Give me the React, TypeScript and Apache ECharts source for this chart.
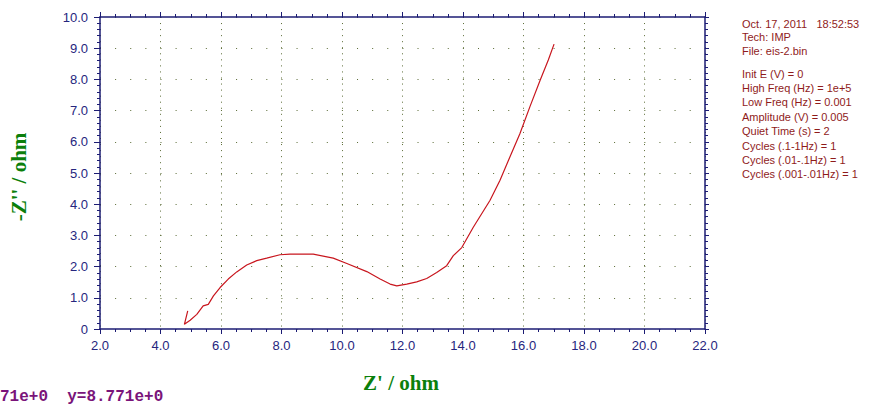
import React, { useEffect, useRef } from "react";
import * as echarts from "echarts";

const zReal = [4.90, 4.79, 4.98, 5.20, 5.41, 5.58, 5.75, 5.97, 6.24, 6.52, 6.85, 7.18, 7.51, 7.95, 8.28, 8.61, 9.05, 9.71, 10.16, 10.82, 11.26, 11.59, 11.81, 12.14, 12.47, 12.80, 13.13, 13.46, 13.68, 13.96, 14.34, 14.89, 15.22, 15.55, 15.88, 16.21, 16.55, 16.82, 17.01];
const zImag = [0.58, 0.15, 0.28, 0.47, 0.74, 0.79, 1.06, 1.33, 1.60, 1.83, 2.05, 2.19, 2.27, 2.38, 2.40, 2.40, 2.40, 2.27, 2.10, 1.84, 1.60, 1.44, 1.38, 1.44, 1.51, 1.62, 1.81, 2.03, 2.35, 2.61, 3.26, 4.12, 4.76, 5.51, 6.26, 7.12, 7.97, 8.62, 9.13];

const xRange = [2, 22];
const yRange = [0, 10];

const infoHeader = ["Oct. 17, 2011   18:52:53", "Tech: IMP", "File: eis-2.bin"];
const infoParams = [
  "Init E (V) = 0",
  "High Freq (Hz) = 1e+5",
  "Low Freq (Hz) = 0.001",
  "Amplitude (V) = 0.005",
  "Quiet Time (s) = 2",
  "Cycles (.1-1Hz) = 1",
  "Cycles (.01-.1Hz) = 1",
  "Cycles (.001-.01Hz) = 1",
];
const cursorText = "71e+0  y=8.771e+0";

const AXIS = "#1c1c74";
const LABEL = "#26267e";
const GRID = "#5a6b35";
const GREEN = "#0b7f0b";
const INFO = "#8f1b1b";

export default function App() {
  const ref = useRef<HTMLDivElement>(null);
  useEffect(() => {
    if (!ref.current) return;
    const chart = echarts.init(ref.current, null, { renderer: "svg" });
    const fmt = (v: number) => (v === 0 ? "0" : v.toFixed(1));
    const baseX = {
      type: "value" as const,
      min: xRange[0],
      max: xRange[1],
      interval: 2,
      axisLine: { show: true, onZero: false, lineStyle: { color: AXIS, width: 1.5 } },
      axisTick: { show: true, inside: false, length: 5, lineStyle: { color: AXIS } },
      minorTick: { show: true, splitNumber: 4, length: 3, lineStyle: { color: AXIS } },
    };
    const baseY = {
      type: "value" as const,
      min: yRange[0],
      max: yRange[1],
      interval: 1,
      axisLine: { show: true, onZero: false, lineStyle: { color: AXIS, width: 1.5 } },
      axisTick: { show: true, inside: false, length: 6, lineStyle: { color: AXIS } },
      minorTick: { show: true, splitNumber: 5, length: 3, lineStyle: { color: AXIS } },
    };
    const graphics: any[] = [];
    infoHeader.forEach((t, i) => {
      graphics.push({
        type: "text",
        left: 742,
        top: 18 + i * 13.5,
        style: { text: t, fill: INFO, font: "11px 'Liberation Sans', Arial, sans-serif" },
      });
    });
    infoParams.forEach((t, i) => {
      graphics.push({
        type: "text",
        left: 742,
        top: 68 + i * 14.4,
        style: { text: t, fill: INFO, font: "11px 'Liberation Sans', Arial, sans-serif" },
      });
    });
    graphics.push({
      type: "text",
      left: 0,
      top: 389,
      style: { text: cursorText, fill: "#7a147a", font: "bold 16px 'Liberation Mono', 'Courier New', monospace" },
    });
    graphics.push({
      type: "text",
      x: 401,
      y: 383,
      style: {
        text: "Z' / ohm",
        fill: GREEN,
        font: "bold 21px 'Liberation Serif', 'Times New Roman', serif",
        textAlign: "center",
        textVerticalAlign: "middle",
      },
    });
    graphics.push({
      type: "text",
      x: 19,
      y: 177,
      rotation: Math.PI / 2,
      style: {
        text: "-Z'' / ohm",
        fill: GREEN,
        font: "bold 21px 'Liberation Serif', 'Times New Roman', serif",
        textAlign: "center",
        textVerticalAlign: "middle",
      },
    });

    chart.setOption({
      animation: false,
      backgroundColor: "#ffffff",
      grid: { left: 100, right: 183, top: 17, bottom: 80, containLabel: false },
      xAxis: [
        {
          ...baseX,
          position: "bottom",
          axisLabel: {
            show: true,
            margin: 10,
            color: LABEL,
            fontSize: 13,
            fontFamily: "'Liberation Sans', Arial, sans-serif",
            formatter: fmt,
          },
          splitLine: { show: true, lineStyle: { color: GRID, width: 1, type: [1, 5.05] } },
        },
        {
          ...baseX,
          position: "top",
          axisLabel: { show: false },
          splitLine: { show: false },
        },
      ],
      yAxis: [
        {
          ...baseY,
          position: "left",
          axisLabel: {
            show: true,
            margin: 12,
            color: LABEL,
            fontSize: 13,
            fontFamily: "'Liberation Sans', Arial, sans-serif",
            formatter: fmt,
          },
          splitLine: { show: true, lineStyle: { color: GRID, width: 1, type: [1, 14.12] } },
        },
        {
          ...baseY,
          position: "right",
          axisTick: { show: true, inside: false, length: 4, lineStyle: { color: AXIS } },
          axisLabel: { show: false },
          splitLine: { show: false },
        },
      ],
      graphic: graphics,
      series: [
        {
          type: "line",
          xAxisIndex: 0,
          yAxisIndex: 0,
          data: zReal.map((x, i) => [x, zImag[i]]),
          showSymbol: false,
          symbol: "none",
          lineStyle: { color: "#c8161e", width: 1.2 },
          clip: true,
        },
      ],
    });
    return () => chart.dispose();
  }, []);
  return <div ref={ref} style={{ width: 888, height: 409, position: "fixed", left: 0, top: 0 }} />;
}
